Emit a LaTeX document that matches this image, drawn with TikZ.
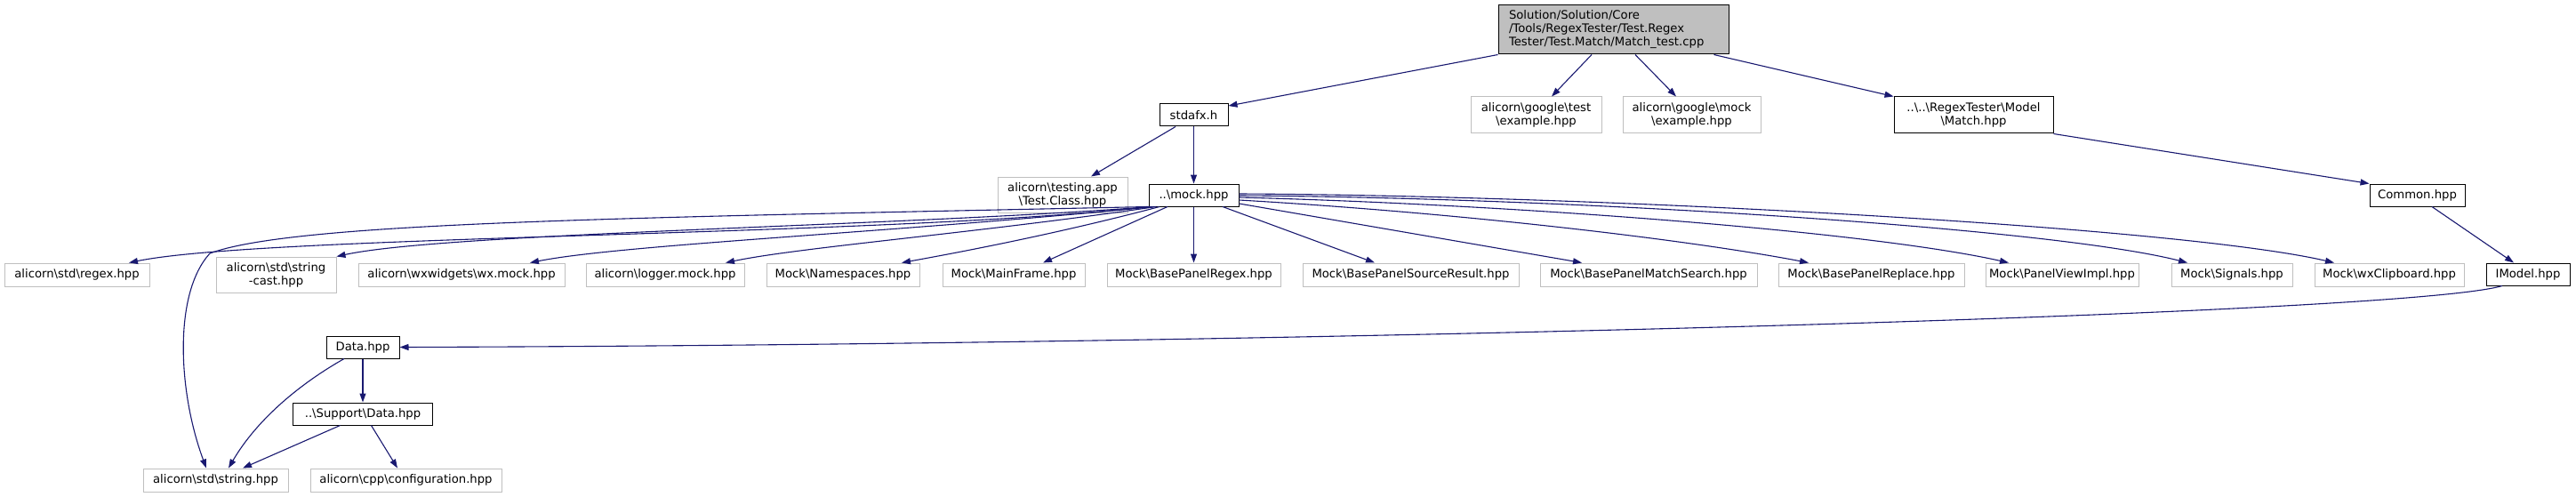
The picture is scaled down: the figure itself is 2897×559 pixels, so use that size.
\documentclass[tikz,border=0pt]{standalone}
\usepackage{fontspec}
\setmainfont{DejaVu Sans}
\usepackage{xcolor}
\usepackage{tikz}
\usetikzlibrary{arrows.meta}

\definecolor{edgeblue}{HTML}{191970}
\definecolor{boxgray}{HTML}{BFBFBF}
\newcommand{\bs}{\textbackslash}

\tikzset{
  file/.style={draw=black, line width=1pt, fill=white, inner sep=0pt,
    minimum height=25pt, align=center, font=\fontsize{13.2}{15}\selectfont},
  extfile/.style={file, draw=boxgray},
  dep/.style={draw=edgeblue, line width=1.1pt, -{Triangle[length=10pt,width=7pt]}}
}

\begin{document}
\begin{tikzpicture}[x=1pt, y=-1pt]
  \useasboundingbox (0,0) rectangle (2897,559);
  % the test file
  \node[file, fill=boxgray, align=left, text width=235pt, inner xsep=12pt,
    minimum height=55pt] (root) at (1814.5,33.5)
    {Solution/Solution/Core\\/Tools/RegexTester/Test.Regex\\Tester/Test.Match/Match\_test.cpp};
  % first level
  \node[file, minimum width=77pt] (stdafx) at (1342.5,129.5) {stdafx.h};
  \node[extfile, minimum width=147pt, minimum height=41pt] (gtest) at (1727.5,129.5)
    {alicorn\bs google\bs test\\\bs example.hpp};
  \node[extfile, minimum width=155pt, minimum height=41pt] (gmock) at (1902.5,129.5)
    {alicorn\bs google\bs mock\\\bs example.hpp};
  \node[file, minimum width=179pt, minimum height=41pt] (match) at (2219.5,129.5)
    {..\bs..\bs RegexTester\bs Model\\\bs Match.hpp};
  % second level
  \node[extfile, minimum width=146pt, minimum height=40pt] (testapp) at (1195,219)
    {alicorn\bs testing.app\\\bs Test.Class.hpp};
  \node[file, minimum width=101pt] (mock) at (1342.5,219.5) {..\bs mock.hpp};
  \node[file, minimum width=107pt] (common) at (2718.5,219.5) {Common.hpp};
  % row of headers
  \node[extfile, minimum width=135pt, minimum height=40pt] (strcast) at (310.5,309)
    {alicorn\bs std\bs string\\-cast.hpp};
  \foreach \name/\cx/\w/\txt in {
      regex/86.5/163/alicorn\bs std\bs regex.hpp,
      wxmock/519/232/alicorn\bs wxwidgets\bs wx.mock.hpp,
      logger/748/178/alicorn\bs logger.mock.hpp,
      namespaces/948/172/Mock\bs Namespaces.hpp,
      mainframe/1140/160/Mock\bs MainFrame.hpp,
      bpregex/1342.5/195/Mock\bs BasePanelRegex.hpp,
      bpsource/1586.5/243/Mock\bs BasePanelSourceResult.hpp,
      bpmatch/1854/244/Mock\bs BasePanelMatchSearch.hpp,
      bpreplace/2104.5/209/Mock\bs BasePanelReplace.hpp,
      panelview/2319/172/Mock\bs PanelViewImpl.hpp,
      signals/2510/136/Mock\bs Signals.hpp,
      clipboard/2687/168/Mock\bs wxClipboard.hpp}{
    \node[extfile, minimum width=\w pt, minimum height=26pt] (\name) at (\cx,309) {\txt};
  }
  \node[file, minimum width=94pt] (imodel) at (2843,308.5) {IModel.hpp};
  % data part
  \node[file, minimum width=82pt] (data) at (408,390.5) {Data.hpp};
  \node[file, minimum width=157pt] (support) at (408,465.5) {..\bs Support\bs Data.hpp};
  \node[extfile, minimum width=163pt, minimum height=26pt] (stdstring) at (242.5,540)
    {alicorn\bs std\bs string.hpp};
  \node[extfile, minimum width=215pt, minimum height=26pt] (config) at (456.5,540)
    {alicorn\bs cpp\bs configuration.hpp};

  % includes of the test file
  \draw[dep] (root.south west) -- (stdafx.15);
  \draw[dep] ([xshift=-24.5pt]root.south) -- ([xshift=17.5pt]gtest.north);
  \draw[dep] ([xshift=24.5pt]root.south) -- ([xshift=-17.5pt]gmock.north);
  \draw[dep] ([xshift=-17pt]root.south east) -- (match.north west);
  \draw[dep] ([xshift=-20.5pt]stdafx.south) -- ([xshift=32pt]testapp.north);
  \draw[dep] (stdafx.south) -- (mock.north);
  \draw[dep] (match.south east) -- (common.north west);
  \draw[dep] ([xshift=16.5pt]common.south) -- ([xshift=-16pt]imodel.north);
  % mock, to the right
  \draw[dep] (mock.south) -- (bpregex.north);
  \draw[dep] ([xshift=32.5pt]mock.south) -- ([xshift=-40.5pt]bpsource.north);
  \draw[dep] ([yshift=-9.5pt]mock.east) -- ([xshift=-75pt]bpmatch.north);
  \draw[dep] ([yshift=-5.5pt]mock.east) .. controls (1650,240) and (1900,270) .. ([xshift=-70.5pt]bpreplace.north);
  \draw[dep] ([yshift=-2.5pt]mock.east) .. controls (1700,230) and (2100,260) .. ([xshift=-60pt]panelview.north);
  \draw[dep] ([yshift=-0.5pt]mock.east) .. controls (1750,222) and (2300,255) .. ([xshift=-50pt]signals.north);
  \draw[dep] ([yshift=1.5pt]mock.east) .. controls (1800,220) and (2450,255) .. ([xshift=-62pt]clipboard.north);
  % mock, to the left
  \draw[dep] ([xshift=-29.5pt]mock.south) -- ([xshift=33pt]mainframe.north);
  \draw[dep] ([xshift=-38.5pt]mock.south) .. controls (1200,260) and (1100,280) .. ([xshift=66pt]namespaces.north);
  \draw[dep] ([xshift=-42.5pt]mock.south) .. controls (1100,262) and (900,278) .. ([xshift=68pt]logger.north);
  \draw[dep] ([xshift=-44.5pt]mock.south) .. controls (1000,262) and (700,275) .. ([xshift=77pt]wxmock.north);
  \draw[dep] ([xshift=-47.5pt]mock.south) .. controls (1000,255) and (500,262) .. (strcast.north east);
  \draw[dep] (mock.south west) .. controls (1000,266) and (300,264) .. ([xshift=58.5pt]regex.north);
  \draw[dep] (mock.south west) .. controls (700,245) and (330,250) .. (236,285)
    .. controls (195,330) and (200,440) .. ([xshift=-10.5pt]stdstring.north);
  % data
  \draw[dep] ([xshift=-29pt]imodel.south) .. controls (2700,355) and (1400,388) .. (data.east);
  \draw[dep] (data.south) -- (support.north);
  \draw[dep] ([xshift=-21pt]data.south) .. controls (340,430) and (290,470) .. ([xshift=14.5pt]stdstring.north);
  \draw[dep] ([xshift=-25.5pt]support.south) -- ([xshift=30.5pt]stdstring.north);
  \draw[dep] ([xshift=9.5pt]support.south) -- ([xshift=-9.5pt]config.north);
\end{tikzpicture}
\end{document}
